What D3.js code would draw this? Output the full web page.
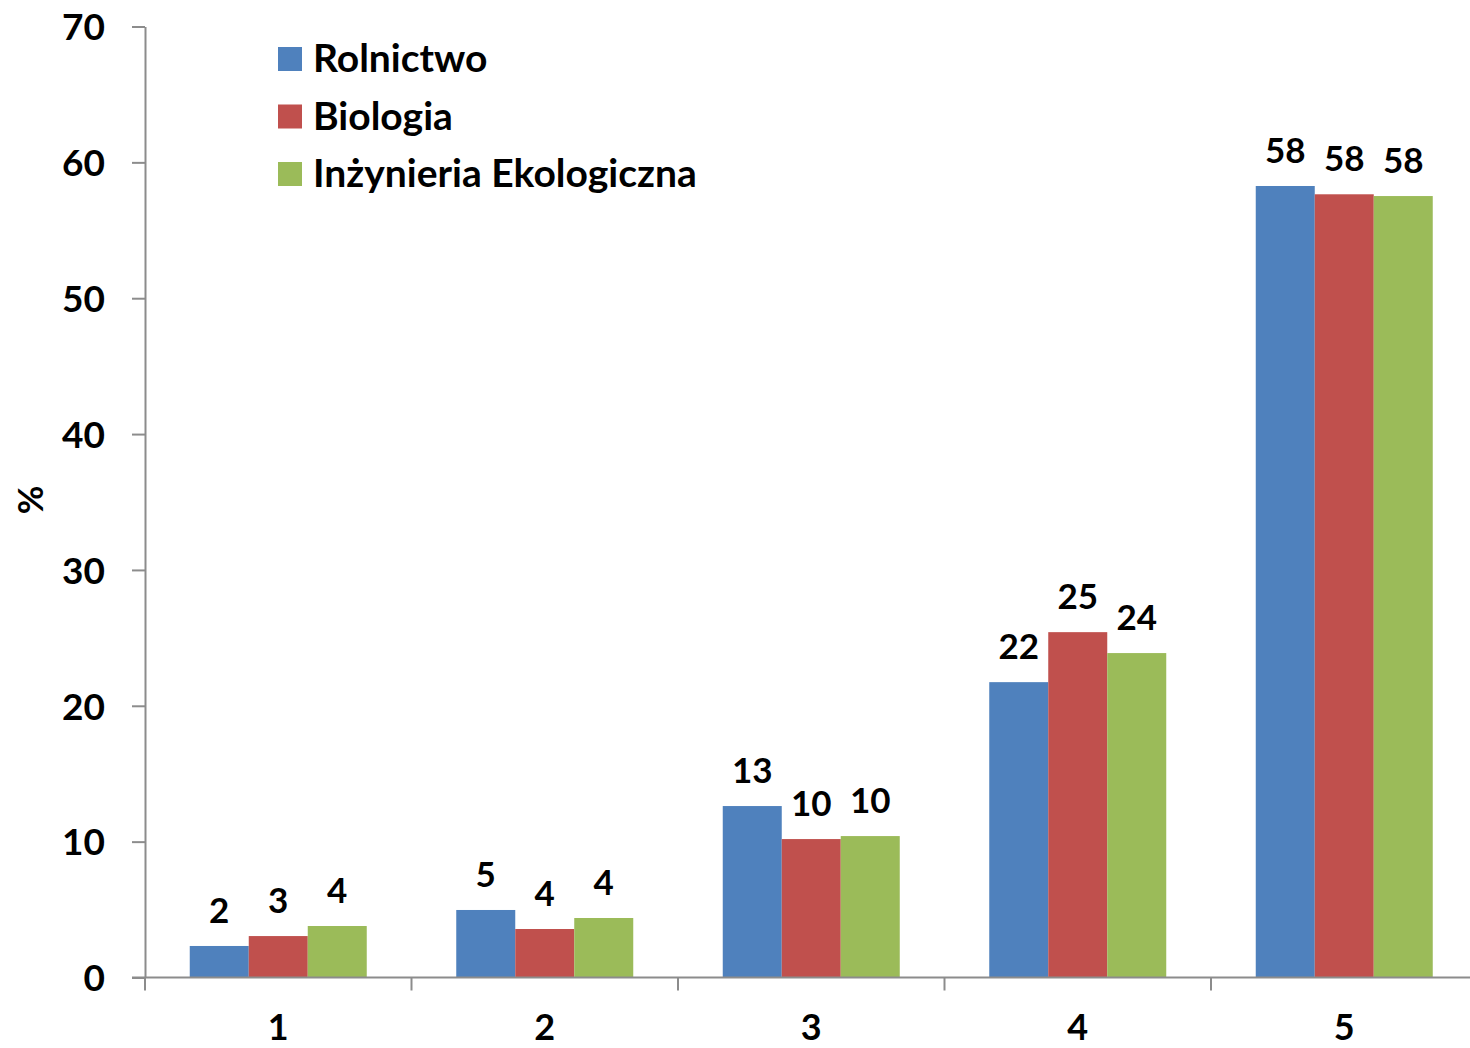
<!DOCTYPE html>
<html>
<head>
<meta charset="utf-8">
<script src="https://cdn.jsdelivr.net/npm/d3@7"></script>
<style>
  html, body { margin: 0; padding: 0; background: #fff; }
  svg text { font-family: Lato, "Open Sans", sans-serif; font-weight: 700; fill: #000; }
</style>
</head>
<body>
<svg id="chart" width="1470" height="1048"></svg>
<script>
const categories = ["1", "2", "3", "4", "5"];
const seriesNames = ["Rolnictwo", "Biologia", "Inżynieria Ekologiczna"];
const rolnictwo = [2.32, 4.97, 12.62, 21.74, 58.26];
const biologia = [3.05, 3.57, 10.19, 25.42, 57.65];
const inzynieria = [3.79, 4.38, 10.41, 23.88, 57.52];
const yTicks = [0, 10, 20, 30, 40, 50, 60, 70];
const colors = ["#4F81BD", "#C0504D", "#9BBB59"];

const seriesValues = [rolnictwo, biologia, inzynieria];
const svg = d3.select("#chart");

const plotLeft = 145, plotRight = 1477.5, plotTop = 26.5, plotBottom = 977.5;

const x0 = d3.scaleBand().domain(categories).range([plotLeft, plotRight]).paddingInner(0).paddingOuter(0);
const groupPad = 44.75;
const x1 = d3.scaleBand().domain(seriesNames).range([groupPad, x0.bandwidth() - groupPad]).padding(0);
const y = d3.scaleLinear().domain([0, 70]).range([plotBottom, plotTop]);

const axisColor = "#8c8c8c";

// Bars
const groups = svg.append("g").selectAll("g")
  .data(categories)
  .join("g")
  .attr("transform", d => `translate(${x0(d)},0)`);

groups.selectAll("rect")
  .data((c, ci) => seriesNames.map((s, si) => ({ s, si, v: seriesValues[si][ci] })))
  .join("rect")
  .attr("x", d => x1(d.s))
  .attr("y", d => y(d.v))
  .attr("width", x1.bandwidth())
  .attr("height", d => y(0) - y(d.v))
  .attr("fill", d => colors[d.si]);

groups.selectAll("text.lbl")
  .data((c, ci) => seriesNames.map((s, si) => ({ s, si, v: seriesValues[si][ci] })))
  .join("text")
  .attr("class", "lbl")
  .attr("x", d => x1(d.s) + x1.bandwidth() / 2)
  .attr("y", d => y(d.v) - 23)
  .attr("text-anchor", "middle")
  .style("font-size", "35px")
  .text(d => Math.round(d.v));

// Y axis
const yAxis = d3.axisLeft(y).tickValues(yTicks).tickSize(13).tickPadding(27).tickSizeOuter(0);
const gy = svg.append("g").attr("transform", `translate(${plotLeft},0)`).call(yAxis);
gy.select(".domain").attr("stroke", axisColor).attr("stroke-width", 2);
gy.selectAll(".tick line").attr("stroke", axisColor).attr("stroke-width", 2);
gy.selectAll(".tick text").style("font-size", "37px").attr("dy", "0.36em")
  .style("font-family", "Lato, 'Open Sans', sans-serif").style("font-weight", 700).attr("fill", "#000");

// X axis
const gx = svg.append("g").attr("transform", `translate(0,${plotBottom})`);
gx.append("line").attr("x1", plotLeft - 13).attr("x2", 1470).attr("y1", 0).attr("y2", 0)
  .attr("stroke", axisColor).attr("stroke-width", 2);
const boundaries = categories.map(c => x0(c)).concat([x0(categories[categories.length - 1]) + x0.bandwidth()]);
gx.selectAll("line.tk").data(boundaries.filter(b => b < 1470)).join("line").attr("class", "tk")
  .attr("x1", d => d).attr("x2", d => d).attr("y1", 0).attr("y2", 13)
  .attr("stroke", axisColor).attr("stroke-width", 2);
gx.selectAll("text").data(categories).join("text")
  .attr("x", d => x0(d) + x0.bandwidth() / 2)
  .attr("y", 62)
  .attr("text-anchor", "middle")
  .style("font-size", "36px")
  .text(d => d);

// Y axis title
svg.append("text")
  .attr("transform", "translate(43,500) rotate(-90)")
  .attr("text-anchor", "middle")
  .style("font-size", "35px")
  .text("%");

// Legend
const legend = svg.append("g");
seriesNames.forEach((s, i) => {
  const yy = 47 + i * 57.5;
  legend.append("rect").attr("x", 278).attr("y", yy).attr("width", 24).attr("height", 24).attr("fill", colors[i]);
  legend.append("text").attr("x", 313).attr("y", yy + 25).style("font-size", "39px").text(s);
});
</script>
</body>
</html>
